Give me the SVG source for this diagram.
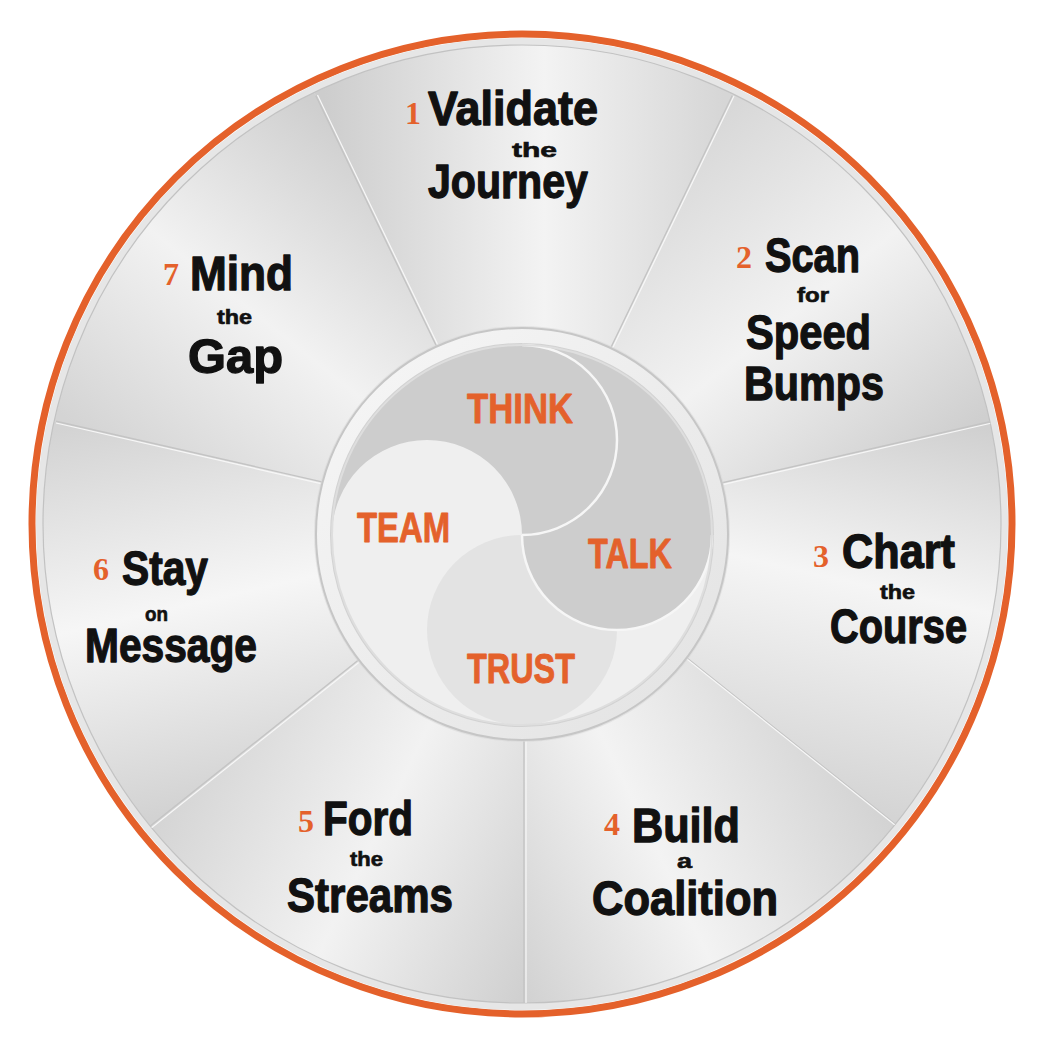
<svg xmlns="http://www.w3.org/2000/svg" width="1059" height="1059" viewBox="0 0 1059 1059">
<style>
.big{font-family:"Liberation Sans Narrow","Liberation Sans",Arial,sans-serif;font-weight:700;font-size:48px;fill:#111;stroke:#111;stroke-width:1.3;stroke-linejoin:round}
.sm{font-family:"Liberation Sans Narrow","Liberation Sans",Arial,sans-serif;font-weight:700;font-size:20px;fill:#111;stroke:#111;stroke-width:0.6}
.num{font-family:"Liberation Serif","Times New Roman",serif;font-weight:700;font-size:32px;fill:#e4612b}
.core{font-family:"Liberation Sans Narrow","Liberation Sans",Arial,sans-serif;font-weight:700;font-size:43px;fill:#e4612b;stroke:#e4612b;stroke-width:0.9;stroke-linejoin:round}
.div{stroke:#c4c4c4;stroke-width:1.4;fill:none}
.divw{stroke:#f7f7f7;stroke-width:1.2;fill:none}
</style>
<defs>
<clipPath id="disc"><circle cx="522" cy="524" r="479"/></clipPath>
<linearGradient id="g1" gradientUnits="userSpaceOnUse" x1="324" y1="198" x2="724" y2="198"><stop offset="0" stop-color="#cdcdcd"/><stop offset="0.55" stop-color="#f3f3f3"/><stop offset="1" stop-color="#d6d6d6"/></linearGradient>
<linearGradient id="g2" gradientUnits="userSpaceOnUse" x1="657.3" y1="165.8" x2="906.7" y2="478.6"><stop offset="0" stop-color="#d8d8d8"/><stop offset="0.5" stop-color="#f2f2f2"/><stop offset="1" stop-color="#cfcfcf"/></linearGradient>
<linearGradient id="g3" gradientUnits="userSpaceOnUse" x1="890.2" y1="406.4" x2="801.2" y2="796.4"><stop offset="0" stop-color="#d0d0d0"/><stop offset="0.45" stop-color="#f5f5f5"/><stop offset="1" stop-color="#d4d4d4"/></linearGradient>
<linearGradient id="g4" gradientUnits="userSpaceOnUse" x1="847.4" y1="738.5" x2="487" y2="912.1"><stop offset="0" stop-color="#d3d3d3"/><stop offset="0.55" stop-color="#f3f3f3"/><stop offset="1" stop-color="#d2d2d2"/></linearGradient>
<linearGradient id="g5" gradientUnits="userSpaceOnUse" x1="561" y1="912.1" x2="200.6" y2="738.5"><stop offset="0" stop-color="#d0d0d0"/><stop offset="0.5" stop-color="#f2f2f2"/><stop offset="1" stop-color="#d5d5d5"/></linearGradient>
<linearGradient id="g6" gradientUnits="userSpaceOnUse" x1="246.8" y1="796.4" x2="157.8" y2="406.4"><stop offset="0" stop-color="#d2d2d2"/><stop offset="0.5" stop-color="#f6f6f6"/><stop offset="1" stop-color="#d3d3d3"/></linearGradient>
<linearGradient id="g7" gradientUnits="userSpaceOnUse" x1="141.3" y1="478.6" x2="390.7" y2="165.8"><stop offset="0" stop-color="#d4d4d4"/><stop offset="0.5" stop-color="#f2f2f2"/><stop offset="1" stop-color="#cfcfcf"/></linearGradient>
<linearGradient id="ringg" x1="0" y1="0" x2="1" y2="1"><stop offset="0" stop-color="#f7f7f7"/><stop offset="1" stop-color="#e2e2e2"/></linearGradient>
</defs>
<rect width="1059" height="1059" fill="#ffffff"/>
<g id="outer-ring">
<circle cx="522" cy="524" r="490" fill="none" stroke="#e4612b" stroke-width="7"/>
<circle cx="522" cy="524" r="486" fill="#e6e6e6"/>
</g>
<g id="segments" clip-path="url(#disc)">
<path d="M524,528 L298.4,59.5 A520,520 0 0 1 749.6,59.5 Z" fill="url(#g1)"/>
<path d="M524,528 L749.6,59.5 A520,520 0 0 1 1030.9,412.3 Z" fill="url(#g2)"/>
<path d="M524,528 L1030.9,412.3 A520,520 0 0 1 930.5,852.2 Z" fill="url(#g3)"/>
<path d="M524,528 L930.5,852.2 A520,520 0 0 1 524,1048 Z" fill="url(#g4)"/>
<path d="M524,528 L524,1048 A520,520 0 0 1 117.5,852.2 Z" fill="url(#g5)"/>
<path d="M524,528 L117.5,852.2 A520,520 0 0 1 17.1,412.3 Z" fill="url(#g6)"/>
<path d="M524,528 L17.1,412.3 A520,520 0 0 1 298.4,59.5 Z" fill="url(#g7)"/>
</g>
<circle cx="522" cy="524" r="479" fill="none" stroke="#c2c2c2" stroke-width="1.2"/>
<g id="connectors" clip-path="url(#disc)">
<path class="div" d="M524,528 L524,1008 M524,528 L148.7,827.3 M524,528 L56,421.2 M524,528 L315.7,95.5 M524,528 L732.3,95.5 M524,528 L992,421.2 M524,528 L899.3,827.3"/>
<path class="divw" d="M526,528 L526,1008 M525,530 L150,829 M524,530 L56,423 M526,528 L317.5,95 M526,528 L734,96 M524,530 L992,423 M525,530 L900,829"/>
</g>
<g id="center">
<circle cx="522" cy="534" r="208" fill="#d9d9d9" opacity="0.6"/>
<circle cx="522" cy="534" r="206" fill="url(#ringg)" stroke="#c6c6c6" stroke-width="2"/>
<circle cx="522" cy="535" r="191" fill="#efefef" stroke="#d2d2d2" stroke-width="2"/>
<circle cx="522" cy="630" r="95" fill="#e3e3e3"/>
<path d="M332,535 A95,95 0 0 1 522,535 A95,95 0 0 0 712,535 A190,190 0 0 0 332,535 Z" fill="#cdcdcd"/>
<path d="M522,345 A95,95 0 0 1 522,535 M522,535 A95,95 0 0 0 712,535" fill="none" stroke="#f6f6f6" stroke-width="2.5"/>
<circle cx="522" cy="535" r="190" fill="none" stroke="#dedede" stroke-width="2"/>
</g>
<g id="node-think"><text class="core" x="467" y="423" textLength="106" lengthAdjust="spacingAndGlyphs">THINK</text></g>
<g id="node-team"><text class="core" x="357" y="542" textLength="93" lengthAdjust="spacingAndGlyphs">TEAM</text></g>
<g id="node-talk"><text class="core" x="588" y="568" textLength="84" lengthAdjust="spacingAndGlyphs">TALK</text></g>
<g id="node-trust"><text class="core" x="467" y="683" textLength="108" lengthAdjust="spacingAndGlyphs">TRUST</text></g>
<g id="node-1">
<text class="num" x="405" y="124">1</text>
<text class="big" x="428" y="125" textLength="170" lengthAdjust="spacingAndGlyphs">Validate</text>
<text class="sm" x="512" y="157" textLength="45" lengthAdjust="spacingAndGlyphs">the</text>
<text class="big" x="428" y="198" textLength="160" lengthAdjust="spacingAndGlyphs">Journey</text>
</g>
<g id="node-2">
<text class="num" x="736" y="268">2</text>
<text class="big" x="765" y="272" textLength="95" lengthAdjust="spacingAndGlyphs">Scan</text>
<text class="sm" x="797" y="302" textLength="32" lengthAdjust="spacingAndGlyphs">for</text>
<text class="big" x="746" y="349" textLength="125" lengthAdjust="spacingAndGlyphs">Speed</text>
<text class="big" x="744" y="400" textLength="140" lengthAdjust="spacingAndGlyphs">Bumps</text>
</g>
<g id="node-3">
<text class="num" x="813" y="567">3</text>
<text class="big" x="842" y="568" textLength="113" lengthAdjust="spacingAndGlyphs">Chart</text>
<text class="sm" x="880" y="599" textLength="35" lengthAdjust="spacingAndGlyphs">the</text>
<text class="big" x="830" y="643" textLength="137" lengthAdjust="spacingAndGlyphs">Course</text>
</g>
<g id="node-4">
<text class="num" x="604" y="835">4</text>
<text class="big" x="632" y="842" textLength="108" lengthAdjust="spacingAndGlyphs">Build</text>
<text class="sm" x="677" y="868" textLength="15" lengthAdjust="spacingAndGlyphs">a</text>
<text class="big" x="592" y="915" textLength="186" lengthAdjust="spacingAndGlyphs">Coalition</text>
</g>
<g id="node-5">
<text class="num" x="298" y="832">5</text>
<text class="big" x="323" y="835" textLength="90" lengthAdjust="spacingAndGlyphs">Ford</text>
<text class="sm" x="350" y="866" textLength="33" lengthAdjust="spacingAndGlyphs">the</text>
<text class="big" x="287" y="912" textLength="166" lengthAdjust="spacingAndGlyphs">Streams</text>
</g>
<g id="node-6">
<text class="num" x="93" y="580">6</text>
<text class="big" x="122" y="585" textLength="86" lengthAdjust="spacingAndGlyphs">Stay</text>
<text class="sm" x="145" y="621" textLength="23" lengthAdjust="spacingAndGlyphs">on</text>
<text class="big" x="85" y="662" textLength="172" lengthAdjust="spacingAndGlyphs">Message</text>
</g>
<g id="node-7">
<text class="num" x="163" y="285">7</text>
<text class="big" x="190" y="290" textLength="103" lengthAdjust="spacingAndGlyphs">Mind</text>
<text class="sm" x="217" y="324" textLength="35" lengthAdjust="spacingAndGlyphs">the</text>
<text class="big" x="188" y="373" textLength="95" lengthAdjust="spacingAndGlyphs">Gap</text>
</g>
</svg>
